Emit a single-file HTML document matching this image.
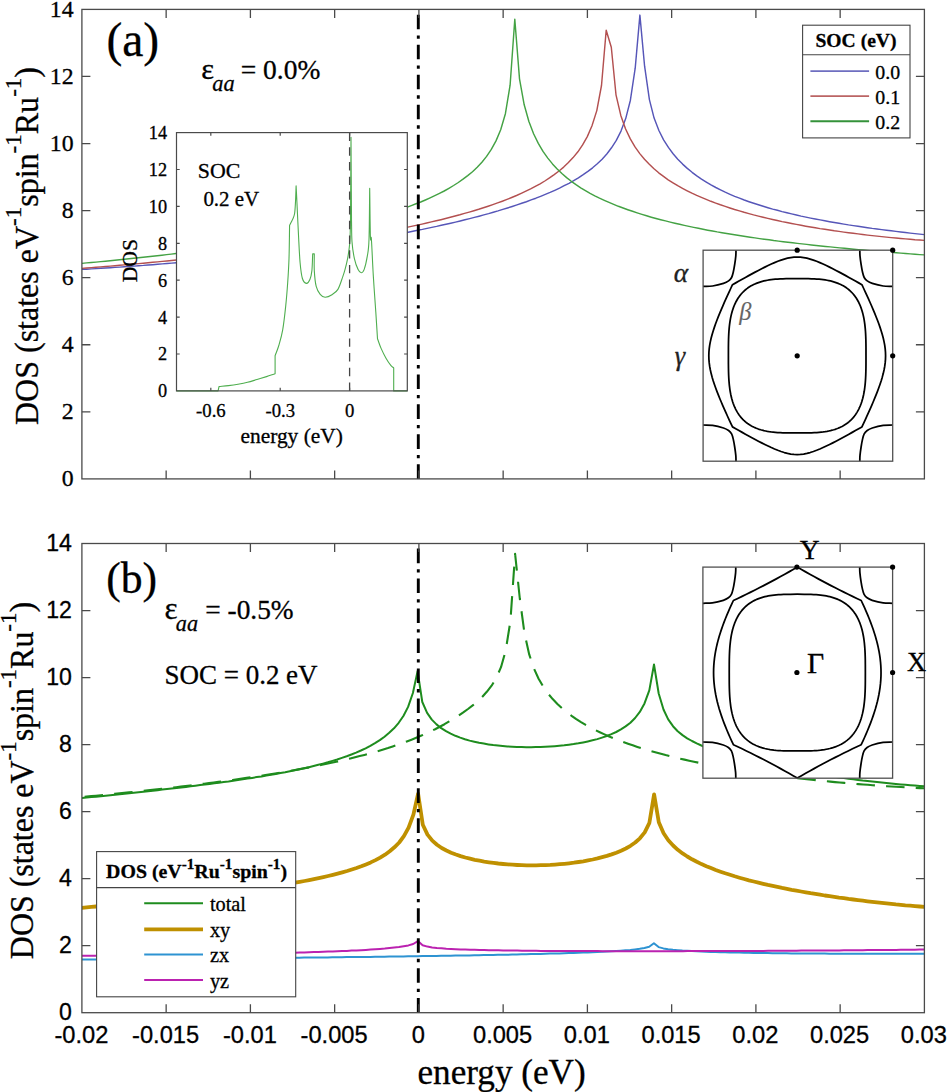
<!DOCTYPE html>
<html><head><meta charset="utf-8"><style>
html,body{margin:0;padding:0;background:#fff;overflow:hidden;width:947px;height:1092px;}
svg{display:block;}
text{font-family:"Liberation Serif",serif;fill:#000;stroke:#000;stroke-width:0.3px;}
.sans{font-family:"Liberation Sans",sans-serif;}
</style></head><body>
<svg width="947" height="1092" viewBox="0 0 947 1092">
<rect x="0" y="0" width="947" height="1092" fill="#fff"/>
<defs>
<clipPath id="ca"><rect x="81.9" y="9.4" width="842.5" height="469.5"/></clipPath>
<clipPath id="cb"><rect x="81.9" y="543.5" width="842.5" height="469.20000000000005"/></clipPath>
</defs>

<g clip-path="url(#ca)" fill="none" stroke-width="1.45" stroke-linejoin="round">
<path d="M81.9 269.4L86.6 269.2L91.4 268.9L96.1 268.6L100.8 268.3L105.5 268.0L110.3 267.7L115.0 267.4L119.7 267.1L124.5 266.7L129.2 266.4L133.9 266.1L138.6 265.7L143.4 265.4L148.1 265.0L152.8 264.7L157.6 264.3L162.3 263.9L167.0 263.5L171.7 263.1L176.5 262.7L181.2 262.3L185.9 261.9L190.7 261.5L195.4 261.1L200.1 260.6L204.8 260.2L209.6 259.7L214.3 259.3L219.0 258.8L223.8 258.3L228.5 257.8L233.2 257.3L238.0 256.8L242.7 256.3L247.4 255.8L252.1 255.3L256.9 254.8L261.6 254.2L266.3 253.7L271.1 253.1L275.8 252.5L280.5 252.0L285.2 251.4L290.0 250.8L294.7 250.2L299.4 249.6L304.2 248.9L308.9 248.3L313.6 247.6L318.3 247.0L323.1 246.3L327.8 245.6L332.5 245.0L337.3 244.3L342.0 243.5L346.7 242.8L351.4 242.1L356.2 241.3L360.9 240.6L365.6 239.8L370.4 239.0L375.1 238.2L379.8 237.4L384.5 236.6L389.3 235.7L394.0 234.9L398.7 234.0L403.5 233.1L408.2 232.2L412.9 231.3L417.6 230.3L422.4 229.4L427.1 228.4L431.8 227.4L436.6 226.4L441.3 225.3L446.0 224.3L450.7 223.2L455.5 222.1L460.2 221.0L464.9 219.8L469.7 218.6L474.4 217.4L479.1 216.2L483.8 214.9L488.6 213.6L493.3 212.2L498.0 210.9L502.8 209.4L507.5 208.0L512.2 206.5L517.0 204.9L521.7 203.3L526.4 201.7L531.1 199.9L535.9 198.2L540.6 196.3L545.3 194.4L550.1 192.4L554.8 190.3L559.5 188.1L564.2 185.7L569.0 183.3L573.7 180.6L578.4 177.8L583.2 174.7L587.9 171.4L592.6 167.8L597.3 163.7L602.1 159.2L606.8 154.0L611.5 147.8L616.3 140.4L621.0 131.1L625.7 118.6L630.4 100.2L635.2 68.2L639.9 15.1L644.6 66.2L649.4 99.6L654.1 118.1L658.9 130.5L663.6 139.8L668.4 147.4L673.1 153.7L677.8 159.2L682.6 164.1L687.3 168.4L692.1 172.3L696.8 175.9L701.5 179.1L706.3 182.1L711.0 184.9L715.8 187.5L720.5 189.9L725.2 192.2L730.0 194.3L734.7 196.3L739.5 198.2L744.2 200.0L749.0 201.7L753.7 203.3L758.4 204.8L763.2 206.3L767.9 207.7L772.7 209.1L777.4 210.3L782.1 211.6L786.9 212.8L791.6 213.9L796.4 215.0L801.1 216.1L805.9 217.1L810.6 218.1L815.3 219.0L820.1 219.9L824.8 220.8L829.6 221.7L834.3 222.5L839.0 223.3L843.8 224.1L848.5 224.9L853.3 225.6L858.0 226.3L862.8 227.0L867.5 227.7L872.2 228.4L877.0 229.0L881.7 229.6L886.5 230.2L891.2 230.8L895.9 231.4L900.7 232.0L905.4 232.5L910.2 233.1L914.9 233.6L919.7 234.1L924.4 234.6" stroke="#5656b8"/>
<path d="M81.9 268.4L86.6 268.0L91.3 267.6L96.1 267.2L100.8 266.9L105.5 266.5L110.2 266.1L115.0 265.7L119.7 265.3L124.4 264.9L129.1 264.5L133.9 264.0L138.6 263.6L143.3 263.2L148.0 262.8L152.8 262.3L157.5 261.9L162.2 261.4L166.9 261.0L171.6 260.5L176.4 260.0L181.1 259.6L185.8 259.1L190.5 258.6L195.3 258.1L200.0 257.6L204.7 257.1L209.4 256.6L214.2 256.1L218.9 255.6L223.6 255.0L228.3 254.5L233.0 254.0L237.8 253.4L242.5 252.9L247.2 252.3L251.9 251.7L256.7 251.2L261.4 250.6L266.1 250.0L270.8 249.4L275.6 248.8L280.3 248.1L285.0 247.5L289.7 246.9L294.5 246.2L299.2 245.6L303.9 244.9L308.6 244.2L313.3 243.6L318.1 242.9L322.8 242.1L327.5 241.4L332.2 240.7L337.0 240.0L341.7 239.2L346.4 238.4L351.1 237.7L355.9 236.9L360.6 236.1L365.3 235.2L370.0 234.4L374.8 233.6L379.5 232.7L384.2 231.8L388.9 230.9L393.6 230.0L398.4 229.1L403.1 228.1L407.8 227.1L412.5 226.1L417.3 225.1L422.0 224.1L426.7 223.0L431.4 221.9L436.2 220.8L440.9 219.7L445.6 218.5L450.3 217.3L455.1 216.0L459.8 214.8L464.5 213.4L469.2 212.1L473.9 210.7L478.7 209.3L483.4 207.8L488.1 206.2L492.8 204.6L497.6 202.9L502.3 201.2L507.0 199.4L511.7 197.5L516.5 195.5L521.2 193.4L525.9 191.2L530.6 188.9L535.3 186.4L540.1 183.8L544.8 181.0L549.5 177.9L554.2 174.6L559.0 171.0L563.7 167.1L568.4 162.6L573.1 157.6L577.9 151.8L582.6 144.9L587.3 136.6L592.0 125.7L596.8 110.6L601.5 85.5L606.2 30.2L611.3 47.3L616.0 94.8L620.8 115.4L625.5 128.8L630.3 138.9L635.0 146.9L639.8 153.6L644.5 159.3L649.3 164.3L654.0 168.8L658.7 172.8L663.5 176.4L668.2 179.8L673.0 182.8L677.7 185.7L682.5 188.3L687.2 190.8L691.9 193.2L696.7 195.4L701.4 197.4L706.2 199.4L710.9 201.3L715.7 203.1L720.4 204.8L725.2 206.4L729.9 208.0L734.6 209.5L739.4 210.9L744.1 212.3L748.9 213.6L753.6 214.9L758.4 216.1L763.1 217.3L767.8 218.4L772.6 219.5L777.3 220.5L782.1 221.6L786.8 222.5L791.6 223.5L796.3 224.4L801.1 225.3L805.8 226.2L810.5 227.0L815.3 227.8L820.0 228.6L824.8 229.3L829.5 230.0L834.3 230.8L839.0 231.4L843.8 232.1L848.5 232.7L853.2 233.3L858.0 233.9L862.7 234.5L867.5 235.1L872.2 235.6L877.0 236.1L881.7 236.6L886.4 237.1L891.2 237.6L895.9 238.0L900.7 238.5L905.4 238.9L910.2 239.3L914.9 239.7L919.7 240.0L924.4 240.4" stroke="#b35050"/>
<path d="M81.9 263.4L86.6 262.9L91.3 262.5L96.0 262.1L100.7 261.6L105.4 261.2L110.1 260.7L114.8 260.2L119.5 259.8L124.2 259.3L129.0 258.8L133.7 258.3L138.4 257.8L143.1 257.3L147.8 256.8L152.5 256.2L157.2 255.7L161.9 255.2L166.6 254.6L171.3 254.1L176.0 253.5L180.7 252.9L185.4 252.3L190.1 251.7L194.8 251.1L199.5 250.5L204.2 249.9L208.9 249.3L213.7 248.6L218.4 248.0L223.1 247.3L227.8 246.7L232.5 246.0L237.2 245.3L241.9 244.6L246.6 243.9L251.3 243.1L256.0 242.4L260.7 241.6L265.4 240.9L270.1 240.1L274.8 239.3L279.5 238.5L284.2 237.6L288.9 236.8L293.6 235.9L298.4 235.0L303.1 234.1L307.8 233.2L312.5 232.3L317.2 231.3L321.9 230.3L326.6 229.3L331.3 228.3L336.0 227.3L340.7 226.2L345.4 225.1L350.1 223.9L354.8 222.8L359.5 221.6L364.2 220.4L368.9 219.1L373.6 217.8L378.3 216.5L383.0 215.1L387.8 213.6L392.5 212.2L397.2 210.6L401.9 209.0L406.6 207.4L411.3 205.6L416.0 203.8L420.7 202.0L425.4 200.0L430.1 197.9L434.8 195.7L439.5 193.4L444.2 191.0L448.9 188.3L453.6 185.5L458.3 182.5L463.0 179.2L467.7 175.6L472.5 171.7L477.2 167.2L481.9 162.2L486.6 156.4L491.3 149.4L496.0 140.9L500.7 129.7L505.4 113.7L510.1 85.2L514.8 19.2L519.5 78.8L524.2 104.8L528.9 121.5L533.6 133.8L538.3 143.4L543.0 151.4L547.8 158.1L552.5 163.9L557.2 169.0L561.9 173.5L566.6 177.6L571.3 181.3L576.0 184.7L580.7 187.8L585.4 190.6L590.1 193.3L594.8 195.8L599.5 198.1L604.3 200.3L609.0 202.4L613.7 204.4L618.4 206.3L623.1 208.0L627.8 209.7L632.5 211.3L637.2 212.9L641.9 214.4L646.6 215.8L651.3 217.2L656.0 218.5L660.7 219.7L665.5 220.9L670.2 222.1L674.9 223.2L679.6 224.3L684.3 225.4L689.0 226.4L693.7 227.4L698.4 228.3L703.1 229.3L707.8 230.2L712.5 231.0L717.2 231.9L722.0 232.7L726.7 233.5L731.4 234.3L736.1 235.0L740.8 235.8L745.5 236.5L750.2 237.2L754.9 237.9L759.6 238.6L764.3 239.2L769.0 239.8L773.7 240.5L778.5 241.1L783.2 241.7L787.9 242.3L792.6 242.8L797.3 243.4L802.0 243.9L806.7 244.4L811.4 245.0L816.1 245.5L820.8 246.0L825.5 246.5L830.2 246.9L834.9 247.4L839.7 247.9L844.4 248.3L849.1 248.8L853.8 249.2L858.5 249.6L863.2 250.0L867.9 250.5L872.6 250.9L877.3 251.3L882.0 251.7L886.7 252.0L891.4 252.4L896.2 252.8L900.9 253.1L905.6 253.5L910.3 253.9L915.0 254.2L919.7 254.6L924.4 254.9" stroke="#44a244"/>
</g>
<line x1="418.3" y1="478.9" x2="418.3" y2="9.4" stroke="#000" stroke-width="2.9" stroke-dasharray="14.6 6.0 3.3 6.07"/>
<rect x="81.9" y="9.4" width="842.5" height="469.5" fill="none" stroke="#4a4a4a" stroke-width="1.3"/>
<path d="M166.15 478.9V470.4M166.15 9.4V17.9M250.40 478.9V470.4M250.40 9.4V17.9M334.65 478.9V470.4M334.65 9.4V17.9M418.90 478.9V470.4M418.90 9.4V17.9M503.15 478.9V470.4M503.15 9.4V17.9M587.40 478.9V470.4M587.40 9.4V17.9M671.65 478.9V470.4M671.65 9.4V17.9M755.90 478.9V470.4M755.90 9.4V17.9M840.15 478.9V470.4M840.15 9.4V17.9M81.9 411.83H90.4M924.4 411.83H915.9M81.9 344.76H90.4M924.4 344.76H915.9M81.9 277.69H90.4M924.4 277.69H915.9M81.9 210.61H90.4M924.4 210.61H915.9M81.9 143.54H90.4M924.4 143.54H915.9M81.9 76.47H90.4M924.4 76.47H915.9" stroke="#4a4a4a" stroke-width="1.3" fill="none"/>
<text id="t_a_y0" x="73.60" y="486.40" font-size="23.78" text-anchor="end" >0</text>
<text id="t_a_y2" x="73.60" y="419.33" font-size="23.78" text-anchor="end" >2</text>
<text id="t_a_y4" x="73.60" y="352.26" font-size="23.78" text-anchor="end" >4</text>
<text id="t_a_y6" x="73.60" y="285.19" font-size="23.78" text-anchor="end" >6</text>
<text id="t_a_y8" x="73.60" y="218.11" font-size="23.78" text-anchor="end" >8</text>
<text id="t_a_y10" x="73.60" y="151.04" font-size="23.78" text-anchor="end" >10</text>
<text id="t_a_y12" x="73.60" y="83.97" font-size="23.78" text-anchor="end" >12</text>
<text id="t_a_y14" x="73.60" y="16.90" font-size="23.78" text-anchor="end" >14</text>
<rect x="176.5" y="132.6" width="230.8" height="258.29999999999995" fill="#fff"/>
<path d="M176.50 390.90 L218.10 390.90 L219.00 386.60 C222.17 386.27 225.33 386.00 228.50 385.60 C231.67 385.20 234.83 384.75 238.00 384.20 C241.17 383.65 244.33 383.08 247.50 382.30 C250.67 381.52 253.83 380.45 257.00 379.50 C260.17 378.55 263.48 377.55 266.50 376.60 C269.52 375.65 272.23 374.73 275.10 373.80 L275.10 355.70 C276.33 352.30 277.53 349.82 278.80 345.50 C280.07 341.18 281.55 336.37 282.70 329.80 C283.85 323.23 284.87 313.98 285.70 306.10 C286.53 298.22 287.15 290.38 287.70 282.50 C288.25 274.62 288.68 268.33 289.00 258.80 C289.32 249.27 289.40 236.47 289.60 225.30 C290.60 223.33 291.77 221.37 292.60 219.40 C293.43 217.43 294.12 216.45 294.60 213.50 C295.08 210.55 295.25 206.30 295.50 201.70 C295.75 197.10 295.90 191.17 296.10 185.90 C296.37 191.17 296.50 193.48 296.90 201.70 C297.30 209.92 297.97 225.02 298.50 235.20 C299.03 245.38 299.45 255.58 300.10 262.80 C300.75 270.02 301.35 275.07 302.40 278.50 C303.45 281.93 305.15 283.23 306.40 283.40 C307.65 283.57 308.98 281.63 309.90 279.50 C310.82 277.37 311.43 274.87 311.90 270.60 C312.37 266.33 312.43 259.47 312.70 253.90 L314.30 253.90 C314.30 259.47 313.98 265.18 314.30 270.60 C314.62 276.02 315.22 282.45 316.20 286.40 C317.18 290.35 318.72 292.50 320.20 294.30 C321.68 296.10 323.13 297.13 325.10 297.20 C327.07 297.27 329.87 296.00 332.00 294.70 C334.13 293.40 336.10 292.42 337.90 289.40 C339.70 286.38 341.62 279.88 342.80 276.60 C343.98 273.32 344.20 272.70 345.00 269.70 C345.80 266.70 346.92 262.07 347.60 258.60 C348.28 255.13 348.70 252.13 349.10 248.90 C349.50 245.67 349.77 244.05 350.00 239.20 C350.23 234.35 350.33 226.27 350.50 219.80 L351.00 137.30 L351.50 219.80 C351.67 227.10 351.52 235.23 352.00 241.70 C352.48 248.17 353.38 253.95 354.40 258.60 C355.42 263.25 356.97 267.25 358.10 269.60 C359.23 271.95 360.20 272.70 361.20 272.70 C362.20 272.70 363.08 272.35 364.10 269.60 C365.12 266.85 366.48 261.27 367.30 256.20 C368.12 251.13 368.60 250.52 369.00 239.20 C369.40 227.88 369.47 205.27 369.70 188.30 C369.93 204.47 370.12 228.32 370.40 236.80 C370.68 245.28 370.92 232.73 371.40 239.20 C371.88 245.67 372.57 263.47 373.30 275.60 C374.03 287.73 375.10 301.48 375.80 312.00 C376.50 322.52 376.93 329.80 377.50 338.70 C378.70 341.93 379.68 345.15 381.10 348.40 C382.52 351.65 384.38 355.37 386.00 358.20 C387.62 361.03 389.52 363.78 390.80 365.40 C392.08 367.02 392.73 367.07 393.70 367.90 L393.70 390.90 L407.30 390.90" fill="none" stroke="#4fae4f" stroke-width="1.1" stroke-linejoin="round"/>
<line x1="349.6" y1="390.9" x2="349.6" y2="132.6" stroke="#444" stroke-width="1.3" stroke-dasharray="8.4 6.3"/>
<rect x="176.5" y="132.6" width="230.8" height="258.29999999999995" fill="none" stroke="#4a4a4a" stroke-width="1.2"/>
<path d="M210.82 390.9V387.7M210.82 132.6V135.79999999999998M280.21 390.9V387.7M280.21 132.6V135.79999999999998M349.60 390.9V387.7M349.60 132.6V135.79999999999998M176.5 354.00H179.7M407.3 354.00H404.1M176.5 317.10H179.7M407.3 317.10H404.1M176.5 280.20H179.7M407.3 280.20H404.1M176.5 243.30H179.7M407.3 243.30H404.1M176.5 206.40H179.7M407.3 206.40H404.1M176.5 169.50H179.7M407.3 169.50H404.1" stroke="#4a4a4a" stroke-width="1.2" fill="none"/>
<text id="t_in_y0" x="167.05" y="397.35" font-size="18.28" text-anchor="end" >0</text>
<text id="t_in_y2" x="167.05" y="360.45" font-size="18.28" text-anchor="end" >2</text>
<text id="t_in_y4" x="167.05" y="323.55" font-size="18.28" text-anchor="end" >4</text>
<text id="t_in_y6" x="167.05" y="286.65" font-size="18.28" text-anchor="end" >6</text>
<text id="t_in_y8" x="167.05" y="249.75" font-size="18.28" text-anchor="end" >8</text>
<text id="t_in_y10" x="167.05" y="212.85" font-size="18.28" text-anchor="end" >10</text>
<text id="t_in_y12" x="167.05" y="175.95" font-size="18.28" text-anchor="end" >12</text>
<text id="t_in_y14" x="167.05" y="139.05" font-size="18.28" text-anchor="end" >14</text>
<text id="t_in_x-0.6" x="210.92" y="417.10" font-size="18.73" text-anchor="middle" >-0.6</text>
<text id="t_in_x-0.3" x="280.31" y="417.10" font-size="18.73" text-anchor="middle" >-0.3</text>
<text id="t_in_x0" x="349.70" y="417.10" font-size="18.73" text-anchor="middle" >0</text>
<text id="t_in_energy" x="291.65" y="442.80" font-size="21.40" text-anchor="middle" >energy (eV)</text>
<text id="t_in_DOS" transform="translate(137.00,260.70) rotate(-90)" font-size="21.68" text-anchor="middle" >DOS</text>
<text id="t_in_SOC" x="197.75" y="178.30" font-size="21.86" >SOC</text>
<text id="t_in_02" x="203.40" y="205.60" font-size="20.95" >0.2 eV</text>
<rect x="703.1" y="250.2" width="189.60000000000002" height="211.0" fill="#fff"/>
<g fill="none" stroke="#000" stroke-width="1.75" stroke-linejoin="round">
<path d="M861.90 284.72L858.67 282.87L855.43 281.04L852.20 279.22L848.96 277.41L845.73 275.63L842.49 273.86L839.25 272.12L836.02 270.42L832.79 268.75L829.55 267.12L826.32 265.55L823.08 264.04L819.85 262.62L816.61 261.30L813.38 260.10L810.14 259.06L806.91 258.20L803.67 257.55L800.44 257.15L797.20 257.01L793.97 257.15L790.73 257.55L787.50 258.20L784.26 259.06L781.03 260.10L777.79 261.30L774.56 262.62L771.32 264.04L768.09 265.55L764.85 267.12L761.62 268.75L758.38 270.42L755.14 272.12L751.91 273.86L748.68 275.63L745.44 277.41L742.21 279.22L738.97 281.04L735.74 282.87L732.49 284.70L730.82 288.25L729.17 291.81L727.53 295.37L725.92 298.92L724.33 302.48L722.77 306.03L721.25 309.59L719.76 313.14L718.32 316.69L716.93 320.25L715.60 323.81L714.35 327.36L713.18 330.92L712.12 334.47L711.17 338.03L710.36 341.58L709.70 345.13L709.22 348.69L708.92 352.25L708.82 355.80L708.92 359.36L709.22 362.91L709.70 366.47L710.36 370.02L711.17 373.58L712.12 377.13L713.18 380.69L714.35 384.24L715.60 387.80L716.93 391.35L718.32 394.90L719.76 398.46L721.25 402.01L722.77 405.57L724.33 409.12L725.92 412.68L727.53 416.24L729.17 419.79L730.82 423.35L732.50 426.88L735.74 428.73L738.97 430.56L742.21 432.38L745.44 434.19L748.68 435.97L751.91 437.74L755.15 439.48L758.38 441.18L761.62 442.85L764.85 444.48L768.09 446.05L771.32 447.56L774.56 448.98L777.79 450.30L781.03 451.50L784.26 452.54L787.50 453.40L790.73 454.05L793.97 454.45L797.20 454.59L800.44 454.45L803.67 454.05L806.91 453.40L810.14 452.54L813.38 451.50L816.61 450.30L819.85 448.98L823.08 447.56L826.32 446.05L829.55 444.48L832.79 442.85L836.02 441.18L839.26 439.48L842.49 437.74L845.73 435.97L848.96 434.19L852.20 432.38L855.43 430.56L858.67 428.73L861.91 426.90L863.58 423.35L865.23 419.79L866.87 416.24L868.48 412.68L870.07 409.12L871.63 405.57L873.15 402.01L874.64 398.46L876.08 394.91L877.47 391.35L878.80 387.80L880.05 384.24L881.22 380.69L882.28 377.13L883.23 373.57L884.04 370.02L884.70 366.47L885.18 362.91L885.48 359.36L885.58 355.80L885.48 352.25L885.18 348.69L884.70 345.13L884.04 341.58L883.23 338.02L882.28 334.47L881.22 330.92L880.05 327.36L878.80 323.81L877.47 320.25L876.08 316.70L874.64 313.14L873.15 309.59L871.63 306.03L870.07 302.48L868.48 298.92L866.87 295.37L865.23 291.81L863.58 288.25Z"/>
<path d="M865.99 355.80L865.98 363.94L865.93 368.28L865.86 371.83L865.76 374.93L865.63 377.75L865.47 380.34L865.28 382.77L865.06 385.06L864.81 387.23L864.53 389.30L864.23 391.27L863.89 393.17L863.53 394.99L863.13 396.75L862.71 398.45L862.25 400.08L861.77 401.66L861.26 403.19L860.72 404.67L860.14 406.10L859.54 407.49L858.91 408.83L858.24 410.13L857.55 411.39L856.83 412.61L856.07 413.78L855.28 414.92L854.47 416.02L853.62 417.08L852.74 418.11L851.82 419.10L850.87 420.05L849.89 420.97L848.88 421.85L847.83 422.70L846.74 423.51L845.62 424.29L844.47 425.04L843.27 425.75L842.03 426.42L840.76 427.06L839.44 427.67L838.08 428.25L836.67 428.79L835.21 429.30L833.70 429.77L832.13 430.22L830.51 430.63L828.82 431.00L827.05 431.35L825.21 431.66L823.28 431.94L821.24 432.18L819.07 432.39L816.76 432.57L814.25 432.72L811.48 432.84L808.32 432.92L804.45 432.97L797.20 432.98L789.95 432.97L786.08 432.92L782.92 432.84L780.15 432.72L777.64 432.57L775.33 432.39L773.16 432.18L771.12 431.94L769.19 431.66L767.35 431.35L765.58 431.00L763.89 430.63L762.27 430.22L760.70 429.77L759.19 429.30L757.73 428.79L756.32 428.25L754.96 427.67L753.64 427.06L752.37 426.42L751.13 425.75L749.93 425.04L748.78 424.29L747.66 423.51L746.57 422.70L745.52 421.85L744.51 420.97L743.53 420.05L742.58 419.10L741.66 418.11L740.78 417.08L739.93 416.02L739.12 414.92L738.33 413.78L737.57 412.61L736.85 411.39L736.16 410.13L735.49 408.83L734.86 407.49L734.26 406.10L733.68 404.67L733.14 403.19L732.63 401.66L732.15 400.08L731.69 398.45L731.27 396.75L730.87 394.99L730.51 393.17L730.17 391.27L729.87 389.30L729.59 387.23L729.34 385.06L729.12 382.77L728.93 380.34L728.77 377.75L728.64 374.93L728.54 371.83L728.47 368.28L728.42 363.94L728.41 355.80L728.42 347.66L728.47 343.32L728.54 339.77L728.64 336.67L728.77 333.85L728.93 331.26L729.12 328.83L729.34 326.54L729.59 324.37L729.87 322.30L730.17 320.33L730.51 318.43L730.87 316.61L731.27 314.85L731.69 313.15L732.15 311.52L732.63 309.94L733.14 308.41L733.68 306.93L734.26 305.50L734.86 304.11L735.49 302.77L736.16 301.47L736.85 300.21L737.57 298.99L738.33 297.82L739.12 296.68L739.93 295.58L740.78 294.52L741.66 293.49L742.58 292.50L743.53 291.55L744.51 290.63L745.52 289.75L746.57 288.90L747.66 288.09L748.78 287.31L749.93 286.56L751.13 285.85L752.37 285.18L753.64 284.54L754.96 283.93L756.32 283.35L757.73 282.81L759.19 282.30L760.70 281.83L762.27 281.38L763.89 280.97L765.58 280.60L767.35 280.25L769.19 279.94L771.12 279.66L773.16 279.42L775.33 279.21L777.64 279.03L780.15 278.88L782.92 278.76L786.08 278.68L789.95 278.63L797.20 278.62L804.45 278.63L808.32 278.68L811.48 278.76L814.25 278.88L816.76 279.03L819.07 279.21L821.24 279.42L823.28 279.66L825.21 279.94L827.05 280.25L828.82 280.60L830.51 280.97L832.13 281.38L833.70 281.83L835.21 282.30L836.67 282.81L838.08 283.35L839.44 283.93L840.76 284.54L842.03 285.18L843.27 285.85L844.47 286.56L845.62 287.31L846.74 288.09L847.83 288.90L848.88 289.75L849.89 290.63L850.87 291.55L851.82 292.50L852.74 293.49L853.62 294.52L854.47 295.58L855.28 296.68L856.07 297.82L856.83 298.99L857.55 300.21L858.24 301.47L858.91 302.77L859.54 304.11L860.14 305.50L860.72 306.93L861.26 308.41L861.77 309.94L862.25 311.52L862.71 313.15L863.13 314.85L863.53 316.61L863.89 318.43L864.23 320.33L864.53 322.30L864.81 324.37L865.06 326.54L865.28 328.83L865.47 331.26L865.63 333.85L865.76 336.67L865.86 339.77L865.93 343.32L865.98 347.66Z"/>
<path d="M703.10 286.40 C706.27 286.27 709.20 286.50 712.60 286.00 C716.00 285.50 720.83 284.25 723.50 283.40 C726.17 282.55 727.25 281.88 728.60 280.90 C729.95 279.92 730.82 278.98 731.60 277.50 C732.38 276.02 732.78 274.18 733.30 272.00 C733.82 269.82 734.28 267.07 734.70 264.40 C735.12 261.73 735.58 258.37 735.80 256.00 C736.02 253.63 735.93 252.13 736.00 250.20"/>
<path d="M892.70 286.40 C889.53 286.27 886.60 286.50 883.20 286.00 C879.80 285.50 874.97 284.25 872.30 283.40 C869.63 282.55 868.55 281.88 867.20 280.90 C865.85 279.92 864.98 278.98 864.20 277.50 C863.42 276.02 863.02 274.18 862.50 272.00 C861.98 269.82 861.52 267.07 861.10 264.40 C860.68 261.73 860.22 258.37 860.00 256.00 C859.78 253.63 859.87 252.13 859.80 250.20"/>
<path d="M703.10 425.00 C706.27 425.13 709.20 424.90 712.60 425.40 C716.00 425.90 720.83 427.15 723.50 428.00 C726.17 428.85 727.25 429.52 728.60 430.50 C729.95 431.48 730.82 432.42 731.60 433.90 C732.38 435.38 732.78 437.22 733.30 439.40 C733.82 441.58 734.28 444.33 734.70 447.00 C735.12 449.67 735.58 453.03 735.80 455.40 C736.02 457.77 735.93 459.27 736.00 461.20"/>
<path d="M892.70 425.00 C889.53 425.13 886.60 424.90 883.20 425.40 C879.80 425.90 874.97 427.15 872.30 428.00 C869.63 428.85 868.55 429.52 867.20 430.50 C865.85 431.48 864.98 432.42 864.20 433.90 C863.42 435.38 863.02 437.22 862.50 439.40 C861.98 441.58 861.52 444.33 861.10 447.00 C860.68 449.67 860.22 453.03 860.00 455.40 C859.78 457.77 859.87 459.27 859.80 461.20"/>
</g>
<rect x="703.1" y="250.2" width="189.60000000000002" height="211.0" fill="none" stroke="#505050" stroke-width="1.3"/>
<circle cx="797.2" cy="250.2" r="2.6" fill="#000"/>
<circle cx="892.7" cy="250.2" r="2.6" fill="#000"/>
<circle cx="892.7" cy="355.8" r="2.6" fill="#000"/>
<circle cx="797.2" cy="355.8" r="2.6" fill="#000"/>
<text id="t_alpha" x="673.75" y="282.05" font-size="27.39" font-style="italic" style="fill:#222;stroke:#222">&#945;</text>
<text id="t_gamma" x="674.70" y="364.95" font-size="26.43" font-style="italic" style="fill:#222;stroke:#222">&#947;</text>
<text id="t_beta" x="739.30" y="319.75" font-size="24.38" font-style="italic" style="fill:#666;stroke:#666;stroke-width:0.1px">&#946;</text>
<rect x="802.6" y="25.2" width="107.4" height="112.7" fill="#fff" stroke="#444" stroke-width="1.1"/>
<line x1="802.6" y1="54.8" x2="910" y2="54.8" stroke="#444" stroke-width="1.1"/>
<text id="t_leg_a_title" x="856.00" y="46.60" font-size="19.58" text-anchor="middle" font-weight="bold">SOC (eV)</text>
<line x1="810.4" y1="71.1" x2="869.1" y2="71.1" stroke="#6e6ec0" stroke-width="1.9"/>
<text id="t_leg_a_0.0" x="875.35" y="78.85" font-size="19.85" >0.0</text>
<line x1="810.4" y1="96.1" x2="869.1" y2="96.1" stroke="#bb6464" stroke-width="1.9"/>
<text id="t_leg_a_0.1" x="875.35" y="103.85" font-size="19.85" >0.1</text>
<line x1="810.4" y1="121.2" x2="869.1" y2="121.2" stroke="#34923a" stroke-width="1.9"/>
<text id="t_leg_a_0.2" x="875.35" y="128.95" font-size="19.85" >0.2</text>
<text id="t_a_label" x="106.45" y="56.15" font-size="47.56" >(a)</text>
<text id="t_eps_a" x="201.20" y="79.00" font-size="30.40" >&#949;</text>
<text id="t_aa_a" x="212.25" y="91.30" font-size="22.31" font-style="italic">aa</text>
<text id="t_eq_a" x="240.75" y="78.90" font-size="27.47" >= 0.0%</text>
<text id="t_ylab_a" transform="translate(37.65,425.00) rotate(-90)" font-size="33.08" textLength="357.98" lengthAdjust="spacingAndGlyphs" >DOS (states eV<tspan font-size="0.72em" dy="-0.69em">-1</tspan><tspan dy="0.497em">spin</tspan><tspan font-size="0.72em" dy="-0.69em">-1</tspan><tspan dy="0.497em">Ru</tspan><tspan font-size="0.72em" dy="-0.69em">-1</tspan><tspan dy="0.497em">)</tspan></text>
<g clip-path="url(#cb)" fill="none" stroke-linejoin="round">
<path d="M81.9 907.8L86.6 907.4L91.4 906.9L96.1 906.5L100.8 906.0L105.6 905.6L110.3 905.1L115.0 904.7L119.8 904.2L124.5 903.8L129.3 903.3L134.0 902.9L138.7 902.4L143.5 901.9L148.2 901.4L152.9 901.0L157.7 900.5L162.4 900.0L167.1 899.5L171.9 899.0L176.6 898.5L181.3 898.0L186.1 897.5L190.8 897.0L195.5 896.4L200.3 895.9L205.0 895.4L209.8 894.8L214.5 894.2L219.2 893.7L224.0 893.1L228.7 892.5L233.4 891.9L238.2 891.3L242.9 890.7L247.6 890.0L252.4 889.4L257.1 888.7L261.8 888.0L266.6 887.4L271.3 886.6L276.0 885.9L280.8 885.2L285.5 884.4L290.2 883.6L295.0 882.7L299.7 881.9L304.5 881.0L309.2 880.1L313.9 879.1L318.7 878.1L323.4 877.1L328.1 876.0L332.9 874.8L337.6 873.6L342.3 872.3L347.1 871.0L351.8 869.5L356.5 868.0L361.3 866.3L366.0 864.4L370.7 862.4L375.5 860.1L380.2 857.6L385.0 854.7L389.7 851.3L394.4 847.3L399.2 842.5L403.9 836.2L408.6 827.7L413.4 814.6L418.1 793.7L422.8 824.7L427.5 834.6L432.3 840.6L437.0 844.7L441.7 848.0L446.4 850.5L451.1 852.7L455.9 854.5L460.6 856.1L465.3 857.5L470.0 858.7L474.7 859.8L479.5 860.7L484.2 861.6L488.9 862.3L493.6 862.9L498.3 863.5L503.1 864.0L507.8 864.4L512.5 864.7L517.2 865.0L521.9 865.2L526.7 865.3L531.4 865.3L536.1 865.3L540.8 865.2L545.5 865.1L550.3 864.9L555.0 864.6L559.7 864.2L564.4 863.8L569.1 863.3L573.9 862.7L578.6 862.0L583.3 861.3L588.0 860.4L592.7 859.5L597.5 858.4L602.2 857.2L606.9 855.9L611.6 854.4L616.3 852.7L621.1 850.7L625.8 848.5L630.5 845.8L635.2 842.5L639.9 838.3L644.7 832.4L649.4 822.8L654.1 794.4L658.8 822.3L663.6 833.2L668.3 840.2L673.1 845.5L677.8 849.8L682.6 853.4L687.3 856.5L692.0 859.3L696.8 861.8L701.5 864.1L706.3 866.2L711.0 868.1L715.7 870.0L720.5 871.7L725.2 873.3L730.0 874.8L734.7 876.3L739.5 877.7L744.2 879.0L748.9 880.3L753.7 881.5L758.4 882.6L763.2 883.8L767.9 884.9L772.7 885.9L777.4 886.9L782.1 887.9L786.9 888.8L791.6 889.8L796.4 890.6L801.1 891.5L805.8 892.3L810.6 893.2L815.3 893.9L820.1 894.7L824.8 895.5L829.6 896.2L834.3 896.9L839.0 897.6L843.8 898.2L848.5 898.9L853.3 899.5L858.0 900.1L862.8 900.7L867.5 901.3L872.2 901.8L877.0 902.4L881.7 902.9L886.5 903.4L891.2 903.9L895.9 904.4L900.7 904.8L905.4 905.3L910.2 905.7L914.9 906.1L919.7 906.5L924.4 906.9" stroke="#bf9000" stroke-width="3.8"/>
<path d="M81.9 959.6L86.6 959.6L91.4 959.5L96.1 959.5L100.8 959.5L105.5 959.4L110.3 959.4L115.0 959.4L119.7 959.3L124.4 959.3L129.2 959.2L133.9 959.2L138.6 959.2L143.4 959.1L148.1 959.1L152.8 959.1L157.5 959.0L162.3 959.0L167.0 958.9L171.7 958.9L176.4 958.9L181.2 958.8L185.9 958.8L190.6 958.7L195.4 958.7L200.1 958.7L204.8 958.6L209.5 958.6L214.3 958.5L219.0 958.5L223.7 958.4L228.4 958.4L233.2 958.4L237.9 958.3L242.6 958.3L247.4 958.2L252.1 958.2L256.8 958.1L261.5 958.1L266.3 958.0L271.0 958.0L275.7 957.9L280.4 957.9L285.2 957.8L289.9 957.8L294.6 957.7L299.4 957.7L304.1 957.6L308.8 957.6L313.5 957.5L318.3 957.5L323.0 957.4L327.7 957.4L332.4 957.3L337.2 957.3L341.9 957.2L346.6 957.1L351.4 957.1L356.1 957.0L360.8 957.0L365.5 956.9L370.3 956.9L375.0 956.8L379.7 956.7L384.4 956.7L389.2 956.6L393.9 956.5L398.6 956.5L403.4 956.4L408.1 956.3L412.8 956.3L417.5 956.2L422.3 956.1L427.0 956.1L431.7 956.0L436.4 955.9L441.2 955.8L445.9 955.8L450.6 955.7L455.4 955.6L460.1 955.5L464.8 955.5L469.5 955.4L474.3 955.3L479.0 955.2L483.7 955.1L488.4 955.0L493.2 954.9L497.9 954.8L502.6 954.8L507.4 954.7L512.1 954.6L516.8 954.5L521.5 954.3L526.3 954.2L531.0 954.1L535.7 954.0L540.4 953.9L545.2 953.8L549.9 953.6L554.6 953.5L559.4 953.4L564.1 953.2L568.8 953.1L573.5 952.9L578.3 952.8L583.0 952.6L587.7 952.4L592.4 952.2L597.2 952.0L601.9 951.8L606.6 951.6L611.4 951.3L616.1 951.0L620.8 950.7L625.5 950.3L630.3 949.9L635.0 949.4L639.7 948.8L644.4 948.0L649.2 946.7L653.9 943.2L658.6 947.1L663.4 948.4L668.1 949.2L672.9 949.8L677.6 950.2L682.4 950.6L687.1 950.8L691.9 951.1L696.6 951.3L701.4 951.5L706.1 951.7L710.8 951.9L715.6 952.0L720.3 952.2L725.1 952.3L729.8 952.4L734.6 952.5L739.3 952.6L744.1 952.7L748.8 952.8L753.6 952.9L758.3 953.0L763.0 953.0L767.8 953.1L772.5 953.2L777.3 953.2L782.0 953.3L786.8 953.3L791.5 953.4L796.3 953.4L801.0 953.5L805.8 953.5L810.5 953.5L815.3 953.6L820.0 953.6L824.7 953.6L829.5 953.7L834.2 953.7L839.0 953.7L843.7 953.7L848.5 953.8L853.2 953.8L858.0 953.8L862.7 953.8L867.5 953.8L872.2 953.8L876.9 953.8L881.7 953.8L886.4 953.8L891.2 953.8L895.9 953.8L900.7 953.8L905.4 953.8L910.2 953.8L914.9 953.8L919.7 953.8L924.4 953.8" stroke="#2e93d2" stroke-width="2"/>
<path d="M81.9 955.8L86.6 955.8L91.4 955.7L96.1 955.7L100.8 955.7L105.6 955.6L110.3 955.6L115.0 955.6L119.8 955.5L124.5 955.5L129.2 955.5L134.0 955.4L138.7 955.4L143.4 955.3L148.2 955.3L152.9 955.2L157.6 955.2L162.4 955.1L167.1 955.1L171.8 955.0L176.5 955.0L181.3 954.9L186.0 954.9L190.7 954.8L195.5 954.7L200.2 954.7L204.9 954.6L209.7 954.5L214.4 954.4L219.1 954.4L223.9 954.3L228.6 954.2L233.3 954.1L238.1 954.0L242.8 953.9L247.5 953.8L252.3 953.7L257.0 953.6L261.7 953.5L266.5 953.4L271.2 953.3L275.9 953.2L280.7 953.1L285.4 953.0L290.1 952.8L294.9 952.7L299.6 952.6L304.3 952.4L309.1 952.3L313.8 952.1L318.5 952.0L323.3 951.8L328.0 951.6L332.7 951.5L337.4 951.3L342.2 951.1L346.9 950.9L351.6 950.6L356.4 950.4L361.1 950.2L365.8 949.9L370.6 949.6L375.3 949.3L380.0 948.9L384.8 948.6L389.5 948.1L394.2 947.6L399.0 947.1L403.7 946.3L408.4 945.4L413.2 944.0L417.9 941.1L422.6 945.2L427.4 946.6L432.1 947.4L436.8 947.9L441.6 948.3L446.3 948.7L451.0 948.9L455.8 949.2L460.5 949.4L465.2 949.5L470.0 949.7L474.7 949.8L479.4 949.9L484.2 950.1L488.9 950.2L493.6 950.3L498.4 950.3L503.1 950.4L507.8 950.5L512.6 950.6L517.3 950.6L522.0 950.7L526.8 950.7L531.5 950.8L536.2 950.8L541.0 950.9L545.7 950.9L550.4 950.9L555.2 951.0L559.9 951.0L564.6 951.0L569.4 951.0L574.1 951.1L578.8 951.1L583.6 951.1L588.3 951.1L593.0 951.1L597.8 951.1L602.5 951.2L607.2 951.2L612.0 951.2L616.7 951.2L621.4 951.2L626.2 951.2L630.9 951.2L635.6 951.2L640.4 951.2L645.1 951.2L649.8 951.2L654.6 951.2L659.3 951.2L664.0 951.2L668.8 951.2L673.5 951.2L678.3 951.2L683.0 951.2L687.7 951.1L692.5 951.1L697.2 951.1L701.9 951.1L706.7 951.1L711.4 951.1L716.1 951.1L720.9 951.0L725.6 951.0L730.3 951.0L735.1 951.0L739.8 951.0L744.5 950.9L749.3 950.9L754.0 950.9L758.7 950.9L763.5 950.9L768.2 950.8L772.9 950.8L777.7 950.8L782.4 950.7L787.1 950.7L791.9 950.7L796.6 950.7L801.3 950.6L806.1 950.6L810.8 950.6L815.5 950.5L820.3 950.5L825.0 950.5L829.7 950.4L834.5 950.4L839.2 950.4L843.9 950.3L848.7 950.3L853.4 950.2L858.1 950.2L862.9 950.2L867.6 950.1L872.3 950.1L877.1 950.0L881.8 950.0L886.5 950.0L891.3 949.9L896.0 949.9L900.7 949.8L905.5 949.8L910.2 949.7L914.9 949.7L919.7 949.6L924.4 949.6" stroke="#bb22b0" stroke-width="2"/>
<path d="M81.9 798.1L86.6 797.6L91.4 797.1L96.1 796.7L100.8 796.2L105.5 795.7L110.3 795.2L115.0 794.7L119.7 794.2L124.5 793.7L129.2 793.2L133.9 792.7L138.6 792.2L143.4 791.7L148.1 791.2L152.8 790.7L157.6 790.2L162.3 789.6L167.0 789.1L171.7 788.6L176.5 788.0L181.2 787.4L185.9 786.9L190.6 786.3L195.4 785.7L200.1 785.1L204.8 784.5L209.6 783.9L214.3 783.3L219.0 782.7L223.7 782.0L228.5 781.4L233.2 780.7L237.9 780.0L242.7 779.3L247.4 778.6L252.1 777.9L256.8 777.1L261.6 776.4L266.3 775.6L271.0 774.8L275.8 773.9L280.5 773.0L285.2 772.2L289.9 771.2L294.7 770.3L299.4 769.3L304.1 768.2L308.9 767.2L313.6 766.0L318.3 764.8L323.0 763.6L327.8 762.3L332.5 760.9L337.2 759.5L341.9 757.9L346.7 756.3L351.4 754.5L356.1 752.6L360.9 750.5L365.6 748.3L370.3 745.8L375.0 743.1L379.8 740.1L384.5 736.7L389.2 732.8L394.0 728.3L398.7 722.8L403.4 716.0L408.1 706.9L412.9 693.0L417.6 671.1L422.3 702.0L427.1 712.9L431.8 719.6L436.5 724.4L441.2 728.2L446.0 731.2L450.7 733.7L455.4 735.8L460.2 737.6L464.9 739.2L469.6 740.6L474.3 741.7L479.1 742.8L483.8 743.6L488.5 744.4L493.2 745.1L498.0 745.6L502.7 746.1L507.4 746.5L512.2 746.7L516.9 747.0L521.6 747.1L526.3 747.2L531.1 747.2L535.8 747.1L540.5 747.0L545.3 746.8L550.0 746.5L554.7 746.2L559.4 745.8L564.2 745.3L568.9 744.7L573.6 744.1L578.4 743.3L583.1 742.4L587.8 741.4L592.5 740.3L597.3 739.1L602.0 737.6L606.7 736.0L611.4 734.1L616.2 732.0L620.9 729.4L625.6 726.4L630.4 722.7L635.1 718.0L639.8 711.9L644.5 703.4L649.3 690.4L654.0 664.5L658.7 693.5L663.5 709.5L668.2 719.4L673.0 726.2L677.7 731.2L682.5 735.1L687.2 738.3L692.0 741.0L696.7 743.4L701.4 745.5L706.2 747.5L710.9 749.4L715.7 751.1L720.4 752.7L725.2 754.3L729.9 755.7L734.6 757.1L739.4 758.4L744.1 759.7L748.9 760.9L753.6 762.1L758.4 763.2L763.1 764.3L767.9 765.3L772.6 766.3L777.3 767.3L782.1 768.2L786.8 769.1L791.6 770.0L796.3 770.9L801.1 771.7L805.8 772.5L810.5 773.3L815.3 774.0L820.0 774.8L824.8 775.5L829.5 776.2L834.3 776.8L839.0 777.5L843.8 778.1L848.5 778.7L853.2 779.3L858.0 779.9L862.7 780.5L867.5 781.0L872.2 781.5L877.0 782.0L881.7 782.5L886.4 783.0L891.2 783.5L895.9 783.9L900.7 784.4L905.4 784.8L910.2 785.2L914.9 785.6L919.7 786.0L924.4 786.3" stroke="#1e8c1e" stroke-width="2"/>
<path d="M81.9 797.0L86.6 796.5L91.3 796.1L96.0 795.7L100.7 795.2L105.4 794.7L110.2 794.3L114.9 793.8L119.6 793.3L124.3 792.9L129.0 792.4L133.7 791.9L138.4 791.4L143.1 790.9L147.8 790.4L152.5 789.9L157.2 789.3L161.9 788.8L166.7 788.3L171.4 787.7L176.1 787.2L180.8 786.6L185.5 786.1L190.2 785.5L194.9 784.9L199.6 784.3L204.3 783.7L209.0 783.1L213.7 782.5L218.5 781.9L223.2 781.3L227.9 780.6L232.6 780.0L237.3 779.3L242.0 778.6L246.7 777.9L251.4 777.2L256.1 776.5L260.8 775.8L265.5 775.0L270.2 774.3L275.0 773.5L279.7 772.7L284.4 771.9L289.1 771.1L293.8 770.3L298.5 769.4L303.2 768.5L307.9 767.6L312.6 766.7L317.3 765.8L322.0 764.8L326.8 763.8L331.5 762.8L336.2 761.8L340.9 760.7L345.6 759.6L350.3 758.5L355.0 757.3L359.7 756.1L364.4 754.9L369.1 753.6L373.8 752.3L378.5 750.9L383.3 749.5L388.0 748.1L392.7 746.5L397.4 744.9L402.1 743.3L406.8 741.5L411.5 739.7L416.2 737.8L420.9 735.8L425.6 733.7L430.3 731.5L435.1 729.2L439.8 726.7L444.5 724.2L449.2 721.4L453.9 718.6L458.6 715.6L463.3 712.4L468.0 709.0L472.7 705.4L477.4 701.4L482.1 697.0L486.8 691.8L491.6 685.7L496.3 677.9L501.0 667.2L505.7 650.6L510.4 621.2L515.1 553.8L519.8 598.5L524.5 633.4L529.2 654.4L533.9 668.4L538.6 678.7L543.3 686.8L548.0 693.5L552.7 699.1L557.4 704.0L562.1 708.4L566.9 712.3L571.6 715.8L576.3 719.1L581.0 722.1L585.7 724.9L590.4 727.5L595.1 729.9L599.8 732.2L604.5 734.4L609.2 736.5L613.9 738.4L618.6 740.3L623.3 742.0L628.0 743.7L632.7 745.3L637.4 746.9L642.1 748.4L646.8 749.8L651.5 751.2L656.2 752.5L660.9 753.8L665.6 755.1L670.4 756.3L675.1 757.4L679.8 758.6L684.5 759.6L689.2 760.7L693.9 761.7L698.6 762.7L703.3 763.7L708.0 764.6L712.7 765.5L717.4 766.4L722.1 767.2L726.8 768.1L731.5 768.9L736.2 769.7L740.9 770.4L745.6 771.2L750.3 771.9L755.0 772.6L759.7 773.3L764.4 774.0L769.1 774.6L773.9 775.3L778.6 775.9L783.3 776.5L788.0 777.1L792.7 777.6L797.4 778.2L802.1 778.7L806.8 779.2L811.5 779.7L816.2 780.2L820.9 780.7L825.6 781.2L830.3 781.6L835.0 782.1L839.7 782.5L844.4 782.9L849.1 783.3L853.8 783.7L858.5 784.1L863.2 784.5L867.9 784.8L872.6 785.2L877.4 785.5L882.1 785.8L886.8 786.2L891.5 786.5L896.2 786.8L900.9 787.0L905.6 787.3L910.3 787.6L915.0 787.8L919.7 788.1L924.4 788.3" stroke="#1e8c1e" stroke-width="2.1" stroke-dasharray="18.5 11.2" stroke-dashoffset="26.97"/>
</g>
<line x1="418.3" y1="1012.7" x2="418.3" y2="543.5" stroke="#000" stroke-width="2.9" stroke-dasharray="14.6 6.0 3.3 6.07"/>
<rect x="81.9" y="543.5" width="842.5" height="469.20000000000005" fill="none" stroke="#4a4a4a" stroke-width="1.3"/>
<path d="M166.15 1012.7V1004.2M166.15 543.5V552.0M250.40 1012.7V1004.2M250.40 543.5V552.0M334.65 1012.7V1004.2M334.65 543.5V552.0M418.90 1012.7V1004.2M418.90 543.5V552.0M503.15 1012.7V1004.2M503.15 543.5V552.0M587.40 1012.7V1004.2M587.40 543.5V552.0M671.65 1012.7V1004.2M671.65 543.5V552.0M755.90 1012.7V1004.2M755.90 543.5V552.0M840.15 1012.7V1004.2M840.15 543.5V552.0M81.9 945.67H90.4M924.4 945.67H915.9M81.9 878.64H90.4M924.4 878.64H915.9M81.9 811.61H90.4M924.4 811.61H915.9M81.9 744.59H90.4M924.4 744.59H915.9M81.9 677.56H90.4M924.4 677.56H915.9M81.9 610.53H90.4M924.4 610.53H915.9" stroke="#4a4a4a" stroke-width="1.3" fill="none"/>
<text class="sans" id="t_b_y0" x="71.85" y="1020.30" font-size="23.09" text-anchor="end" >0</text>
<text class="sans" id="t_b_y2" x="71.85" y="953.27" font-size="23.09" text-anchor="end" >2</text>
<text class="sans" id="t_b_y4" x="71.85" y="886.24" font-size="23.09" text-anchor="end" >4</text>
<text class="sans" id="t_b_y6" x="71.85" y="819.21" font-size="23.09" text-anchor="end" >6</text>
<text class="sans" id="t_b_y8" x="71.85" y="752.19" font-size="23.09" text-anchor="end" >8</text>
<text class="sans" id="t_b_y10" x="71.85" y="685.16" font-size="23.09" text-anchor="end" >10</text>
<text class="sans" id="t_b_y12" x="71.85" y="618.13" font-size="23.09" text-anchor="end" >12</text>
<text class="sans" id="t_b_y14" x="71.85" y="551.10" font-size="23.09" text-anchor="end" >14</text>
<text class="sans" id="t_b_x0" x="81.35" y="1042.70" font-size="23.66" text-anchor="middle" >-0.02</text>
<text class="sans" id="t_b_x1" x="165.60" y="1042.70" font-size="23.66" text-anchor="middle" >-0.015</text>
<text class="sans" id="t_b_x2" x="249.85" y="1042.70" font-size="23.66" text-anchor="middle" >-0.01</text>
<text class="sans" id="t_b_x3" x="334.10" y="1042.70" font-size="23.66" text-anchor="middle" >-0.005</text>
<text class="sans" id="t_b_x4" x="418.35" y="1042.70" font-size="23.66" text-anchor="middle" >0</text>
<text class="sans" id="t_b_x5" x="502.60" y="1042.70" font-size="23.66" text-anchor="middle" >0.005</text>
<text class="sans" id="t_b_x6" x="586.85" y="1042.70" font-size="23.66" text-anchor="middle" >0.01</text>
<text class="sans" id="t_b_x7" x="671.10" y="1042.70" font-size="23.66" text-anchor="middle" >0.015</text>
<text class="sans" id="t_b_x8" x="755.35" y="1042.70" font-size="23.66" text-anchor="middle" >0.02</text>
<text class="sans" id="t_b_x9" x="839.60" y="1042.70" font-size="23.66" text-anchor="middle" >0.025</text>
<text class="sans" id="t_b_x10" x="923.85" y="1042.70" font-size="23.66" text-anchor="middle" >0.03</text>
<text id="t_energy" x="501.60" y="1084.00" font-size="35.18" text-anchor="middle" >energy (eV)</text>
<rect x="702.9" y="567.1" width="189.70000000000005" height="211.10000000000002" fill="#fff"/>
<g fill="none" stroke="#000" stroke-width="1.75" stroke-linejoin="round">
<path d="M797.30 567.10L793.13 569.50L788.95 571.88L784.76 574.23L780.55 576.56L776.33 578.86L772.10 581.14L767.85 583.39L763.59 585.62L759.32 587.82L755.03 590.00L750.73 592.15L746.42 594.27L742.09 596.37L737.75 598.45L733.40 600.50L731.71 604.11L730.07 607.71L728.48 611.32L726.95 614.92L725.48 618.52L724.07 622.13L722.73 625.74L721.46 629.34L720.27 632.95L719.16 636.55L718.14 640.15L717.21 643.76L716.38 647.37L715.65 650.97L715.02 654.58L714.50 658.18L714.10 661.78L713.81 665.39L713.63 669.00L713.57 672.60L713.63 676.21L713.81 679.81L714.10 683.41L714.50 687.02L715.02 690.62L715.65 694.23L716.38 697.84L717.21 701.44L718.14 705.05L719.16 708.65L720.27 712.25L721.46 715.86L722.73 719.47L724.07 723.07L725.48 726.67L726.95 730.28L728.48 733.88L730.07 737.49L731.71 741.10L733.40 744.70L737.75 746.75L742.09 748.83L746.42 750.93L750.73 753.05L755.03 755.20L759.32 757.38L763.59 759.58L767.85 761.81L772.10 764.06L776.33 766.34L780.55 768.64L784.76 770.97L788.95 773.32L793.13 775.70L797.30 778.10L801.47 775.70L805.65 773.32L809.84 770.97L814.05 768.64L818.27 766.34L822.50 764.06L826.75 761.81L831.01 759.58L835.28 757.38L839.57 755.20L843.87 753.05L848.18 750.93L852.51 748.83L856.85 746.75L861.20 744.70L862.89 741.10L864.53 737.49L866.12 733.88L867.65 730.28L869.12 726.68L870.53 723.07L871.87 719.47L873.14 715.86L874.33 712.25L875.44 708.65L876.46 705.05L877.39 701.44L878.22 697.84L878.95 694.23L879.58 690.62L880.10 687.02L880.50 683.42L880.79 679.81L880.97 676.21L881.03 672.60L880.97 669.00L880.79 665.39L880.50 661.79L880.10 658.18L879.58 654.58L878.95 650.97L878.22 647.37L877.39 643.76L876.46 640.15L875.44 636.55L874.33 632.95L873.14 629.34L871.87 625.74L870.53 622.13L869.12 618.53L867.65 614.92L866.12 611.32L864.53 607.71L862.89 604.11L861.20 600.50L856.85 598.45L852.51 596.37L848.18 594.27L843.87 592.15L839.57 590.00L835.28 587.82L831.01 585.62L826.75 583.39L822.50 581.14L818.27 578.86L814.05 576.56L809.84 574.23L805.65 571.88L801.47 569.50Z"/>
<path d="M865.36 672.60L865.34 680.50L865.30 684.82L865.22 688.37L865.12 691.49L864.99 694.33L864.83 696.95L864.64 699.41L864.41 701.73L864.16 703.94L863.89 706.04L863.58 708.06L863.24 709.99L862.87 711.85L862.47 713.65L862.04 715.38L861.59 717.06L861.10 718.68L860.58 720.24L860.04 721.76L859.46 723.23L858.85 724.66L858.22 726.03L857.55 727.37L856.85 728.66L856.12 729.92L855.36 731.13L854.57 732.30L853.75 733.43L852.89 734.53L852.01 735.59L851.09 736.61L850.14 737.59L849.15 738.54L848.13 739.45L847.08 740.32L845.99 741.16L844.87 741.97L843.71 742.74L842.51 743.47L841.28 744.17L840.00 744.83L838.68 745.46L837.32 746.06L835.91 746.62L834.46 747.14L832.95 747.64L831.39 748.09L829.77 748.52L828.09 748.91L826.34 749.26L824.52 749.59L822.60 749.87L820.58 750.13L818.45 750.35L816.17 750.53L813.70 750.69L810.99 750.80L807.91 750.89L804.16 750.94L797.30 750.96L790.44 750.94L786.69 750.89L783.61 750.80L780.90 750.69L778.43 750.53L776.15 750.35L774.02 750.13L772.00 749.87L770.08 749.59L768.26 749.26L766.51 748.91L764.83 748.52L763.21 748.09L761.65 747.64L760.14 747.14L758.69 746.62L757.28 746.06L755.92 745.46L754.60 744.83L753.32 744.17L752.09 743.47L750.89 742.74L749.73 741.97L748.61 741.16L747.52 740.32L746.47 739.45L745.45 738.54L744.46 737.59L743.51 736.61L742.59 735.59L741.71 734.53L740.85 733.43L740.03 732.30L739.24 731.13L738.48 729.92L737.75 728.66L737.05 727.37L736.38 726.03L735.75 724.66L735.14 723.23L734.56 721.76L734.02 720.24L733.50 718.68L733.01 717.06L732.56 715.38L732.13 713.65L731.73 711.85L731.36 709.99L731.02 708.06L730.71 706.04L730.44 703.94L730.19 701.73L729.96 699.41L729.77 696.95L729.61 694.33L729.48 691.49L729.38 688.37L729.30 684.82L729.26 680.50L729.24 672.60L729.26 664.70L729.30 660.38L729.38 656.83L729.48 653.71L729.61 650.87L729.77 648.25L729.96 645.79L730.19 643.47L730.44 641.26L730.71 639.16L731.02 637.14L731.36 635.21L731.73 633.35L732.13 631.55L732.56 629.82L733.01 628.14L733.50 626.52L734.02 624.96L734.56 623.44L735.14 621.97L735.75 620.54L736.38 619.17L737.05 617.83L737.75 616.54L738.48 615.28L739.24 614.07L740.03 612.90L740.85 611.77L741.71 610.67L742.59 609.61L743.51 608.59L744.46 607.61L745.45 606.66L746.47 605.75L747.52 604.88L748.61 604.04L749.73 603.23L750.89 602.46L752.09 601.73L753.32 601.03L754.60 600.37L755.92 599.74L757.28 599.14L758.69 598.58L760.14 598.06L761.65 597.56L763.21 597.11L764.83 596.68L766.51 596.29L768.26 595.94L770.08 595.61L772.00 595.33L774.02 595.07L776.15 594.85L778.43 594.67L780.90 594.51L783.61 594.40L786.69 594.31L790.44 594.26L797.30 594.24L804.16 594.26L807.91 594.31L810.99 594.40L813.70 594.51L816.17 594.67L818.45 594.85L820.58 595.07L822.60 595.33L824.52 595.61L826.34 595.94L828.09 596.29L829.77 596.68L831.39 597.11L832.95 597.56L834.46 598.06L835.91 598.58L837.32 599.14L838.68 599.74L840.00 600.37L841.28 601.03L842.51 601.73L843.71 602.46L844.87 603.23L845.99 604.04L847.08 604.88L848.13 605.75L849.15 606.66L850.14 607.61L851.09 608.59L852.01 609.61L852.89 610.67L853.75 611.77L854.57 612.90L855.36 614.07L856.12 615.28L856.85 616.54L857.55 617.83L858.22 619.17L858.85 620.54L859.46 621.97L860.04 623.44L860.58 624.96L861.10 626.52L861.59 628.14L862.04 629.82L862.47 631.55L862.87 633.35L863.24 635.21L863.58 637.14L863.89 639.16L864.16 641.26L864.41 643.47L864.64 645.79L864.83 648.25L864.99 650.87L865.12 653.71L865.22 656.83L865.30 660.38L865.34 664.70Z"/>
<path d="M702.90 603.30 C706.07 603.17 709.00 603.40 712.40 602.90 C715.80 602.40 720.63 601.15 723.30 600.30 C725.97 599.45 727.05 598.78 728.40 597.80 C729.75 596.82 730.62 595.88 731.40 594.40 C732.18 592.92 732.58 591.08 733.10 588.90 C733.62 586.72 734.08 583.97 734.50 581.30 C734.92 578.63 735.38 575.27 735.60 572.90 C735.82 570.53 735.73 569.03 735.80 567.10"/>
<path d="M892.60 603.30 C889.43 603.17 886.50 603.40 883.10 602.90 C879.70 602.40 874.87 601.15 872.20 600.30 C869.53 599.45 868.45 598.78 867.10 597.80 C865.75 596.82 864.88 595.88 864.10 594.40 C863.32 592.92 862.92 591.08 862.40 588.90 C861.88 586.72 861.42 583.97 861.00 581.30 C860.58 578.63 860.12 575.27 859.90 572.90 C859.68 570.53 859.77 569.03 859.70 567.10"/>
<path d="M702.90 742.00 C706.07 742.13 709.00 741.90 712.40 742.40 C715.80 742.90 720.63 744.15 723.30 745.00 C725.97 745.85 727.05 746.52 728.40 747.50 C729.75 748.48 730.62 749.42 731.40 750.90 C732.18 752.38 732.58 754.22 733.10 756.40 C733.62 758.58 734.08 761.33 734.50 764.00 C734.92 766.67 735.38 770.03 735.60 772.40 C735.82 774.77 735.73 776.27 735.80 778.20"/>
<path d="M892.60 742.00 C889.43 742.13 886.50 741.90 883.10 742.40 C879.70 742.90 874.87 744.15 872.20 745.00 C869.53 745.85 868.45 746.52 867.10 747.50 C865.75 748.48 864.88 749.42 864.10 750.90 C863.32 752.38 862.92 754.22 862.40 756.40 C861.88 758.58 861.42 761.33 861.00 764.00 C860.58 766.67 860.12 770.03 859.90 772.40 C859.68 774.77 859.77 776.27 859.70 778.20"/>
</g>
<rect x="702.9" y="567.1" width="189.70000000000005" height="211.10000000000002" fill="none" stroke="#505050" stroke-width="1.3"/>
<circle cx="796.9" cy="567.1" r="2.6" fill="#000"/>
<circle cx="892.6" cy="567.1" r="2.6" fill="#000"/>
<circle cx="892.6" cy="672.5" r="2.6" fill="#000"/>
<circle cx="796.9" cy="672.5" r="2.6" fill="#000"/>
<text id="t_Y" x="799.85" y="558.85" font-size="27.56" >Y</text>
<text id="t_G" x="807.00" y="672.85" font-size="29.71" >&#915;</text>
<text id="t_X" x="906.95" y="670.90" font-size="26.59" >X</text>
<rect x="96.6" y="851.6" width="199.1" height="145.2" fill="#fff" stroke="#444" stroke-width="1.1"/>
<line x1="96.6" y1="887.6" x2="295.7" y2="887.6" stroke="#444" stroke-width="1.1"/>
<text id="t_leg_b_title" x="106.10" y="877.70" font-size="19.60" textLength="180.94" lengthAdjust="spacingAndGlyphs" font-weight="bold">DOS (eV<tspan font-size="15" dy="-9">-1</tspan><tspan dy="9">Ru</tspan><tspan font-size="15" dy="-9">-1</tspan><tspan dy="9">spin</tspan><tspan font-size="15" dy="-9">-1</tspan><tspan dy="9">)</tspan></text>
<line x1="144.2" y1="903.3" x2="203" y2="903.3" stroke="#1e8c1e" stroke-width="2"/>
<text id="t_leg_b_total" x="209.90" y="911.10" font-size="20.32" >total</text>
<line x1="144.2" y1="929.4" x2="203" y2="929.4" stroke="#bf9000" stroke-width="3.8"/>
<text id="t_leg_b_xy" x="209.90" y="937.20" font-size="20.32" >xy</text>
<line x1="144.2" y1="954.5" x2="203" y2="954.5" stroke="#2e93d2" stroke-width="2"/>
<text id="t_leg_b_zx" x="209.90" y="962.30" font-size="20.32" >zx</text>
<line x1="144.2" y1="980" x2="203" y2="980" stroke="#bb22b0" stroke-width="2"/>
<text id="t_leg_b_yz" x="209.90" y="987.80" font-size="20.32" >yz</text>
<text id="t_b_label" x="106.15" y="592.75" font-size="43.63" >(b)</text>
<text id="t_eps_b" x="164.55" y="618.95" font-size="31.10" >&#949;</text>
<text id="t_aa_b" x="175.80" y="630.75" font-size="22.18" font-style="italic">aa</text>
<text id="t_eq_b" x="205.25" y="618.90" font-size="27.36" >= -0.5%</text>
<text id="t_soc_b" x="164.45" y="684.20" font-size="26.99" >SOC = 0.2 eV</text>
<text id="t_ylab_b" transform="translate(32.90,959.15) rotate(-90)" font-size="33.19" textLength="357.30" lengthAdjust="spacingAndGlyphs" >DOS (states eV<tspan font-size="0.72em" dy="-0.69em">-1</tspan><tspan dy="0.497em">spin</tspan><tspan font-size="0.72em" dy="-0.69em">-1</tspan><tspan dy="0.497em">Ru</tspan><tspan font-size="0.72em" dy="-0.69em">-1</tspan><tspan dy="0.497em">)</tspan></text>
</svg></body></html>
